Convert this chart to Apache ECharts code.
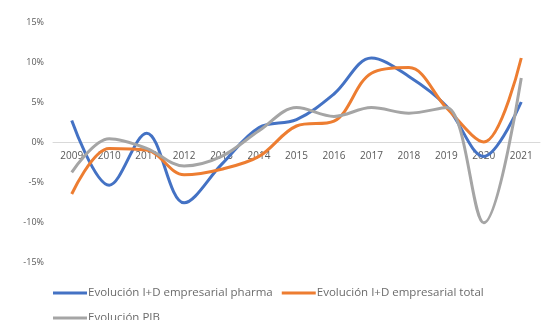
<!DOCTYPE html>
<html><head><meta charset="utf-8">
<script src="https://cdn.jsdelivr.net/npm/echarts@6/dist/echarts.min.js"></script>
<style>html,body{margin:0;padding:0;background:#fff}#c{width:546px;height:320px}</style>
</head><body><div id="c"></div>
<script>
const years = ['2009','2010','2011','2012','2013','2014','2015','2016','2017','2018','2019','2020','2021'];
const pharma = [2.7, -5.4, 1.1, -7.6, -2.8, 1.8, 2.8, 6.0, 10.5, 8.2, 4.5, -1.8, 5.0];
const total = [-6.5, -0.8, -1.0, -4.1, -3.4, -1.8, 2.0, 2.6, 8.6, 9.3, 4.3, 0.0, 10.5];
const pib = [-3.8, 0.4, -0.8, -3.0, -1.8, 1.4, 4.3, 3.2, 4.3, 3.6, 4.3, -10.1, 8.0];
const names = ['Evolución I+D empresarial pharma','Evolución I+D empresarial total','Evolución PIB'];
const colors = ['#4472C4','#ED7D31','#A5A5A5'];
const font = 'Open Sans';
const chart = echarts.init(document.getElementById('c'));
const mk = (n, d, c) => ({name:n, type:'line', data:d, smooth:0.35, symbol:'none', z:3,
  lineStyle:{width:3, color:c}, itemStyle:{color:c}});
const legendBase = {itemWidth:34, itemHeight:3, itemGap:9, icon:'rect', padding:0,
  textStyle:{color:'#6b6b6b', fontFamily:font, fontSize:11.5, padding:[0,0,0,-4]}};
chart.setOption({
  animation:false,
  grid:{left:53, right:6, top:22, bottom:58},
  legend:[
    Object.assign({}, legendBase, {left:53, top:287, data:names.slice(0,2)}),
    Object.assign({}, legendBase, {left:53, top:312, data:names.slice(2)})
  ],
  xAxis:{type:'category', data:years, boundaryGap:true, offset:-120, z:1,
    axisLine:{onZero:false, lineStyle:{color:'#D9D9D9'}}, axisTick:{show:false},
    axisLabel:{color:'#595959', fontFamily:font, fontSize:10, margin:9}},
  yAxis:{type:'value', min:-15, max:15, interval:5, splitLine:{show:false},
    axisLine:{show:false}, axisTick:{show:false},
    axisLabel:{color:'#595959', fontFamily:font, fontSize:9, margin:9, formatter:v=>v+'%'}},
  series:[mk(names[0], pharma, colors[0]), mk(names[1], total, colors[1]), mk(names[2], pib, colors[2])]
});
</script></body></html>
